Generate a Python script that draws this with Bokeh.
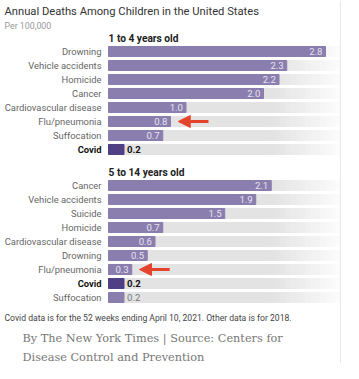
from bokeh.plotting import figure
from bokeh.models import Range1d, Arrow, NormalHead, Span, ColumnDataSource
from bokeh.core.properties import value
from bokeh.embed import file_html
from bokeh.resources import INLINE

# ---- data ----
title = "Annual Deaths Among Children in the United States"
subtitle = "Per 100,000"
group_titles = ["1 to 4 years old", "5 to 14 years old"]
causes_1_4 = ["Drowning", "Vehicle accidents", "Homicide", "Cancer",
              "Cardiovascular disease", "Flu/pneumonia", "Suffocation", "Covid"]
rates_1_4 = [2.8, 2.3, 2.2, 2.0, 1.0, 0.8, 0.7, 0.2]
causes_5_14 = ["Cancer", "Vehicle accidents", "Suicide", "Homicide",
               "Cardiovascular disease", "Drowning", "Flu/pneumonia", "Covid", "Suffocation"]
rates_5_14 = [2.1, 1.9, 1.5, 0.7, 0.6, 0.5, 0.3, 0.2, 0.2]
note = "Covid data is for the 52 weeks ending April 10, 2021. Other data is for 2018."
source_lines = ["By The New York Times | Source: Centers for", "Disease Control and Prevention"]
highlight = "Covid"
arrow_cause = "Flu/pneumonia"

# ---- layout / style ----
W, H = 343, 363
PX = 77.5          # pixels per unit
X0 = 108           # pixel position of zero inside the figure
TRACK_END = 2.994
SANS = "Roboto"
BAR = "#8a7eae"
BAR_HI = "#4f3f85"
TRACK = "#e3e3e3"
RED = "#e5442c"

p = figure(width=W, height=H, output_backend="svg", toolbar_location=None,
           x_range=Range1d(-X0 / PX, (W - X0) / PX), y_range=Range1d(H, 0),
           min_border=0)
p.axis.visible = False
p.grid.visible = False
p.outline_line_color = None
p.background_fill_color = "white"
p.border_fill_color = "white"

groups = [(group_titles[0], causes_1_4, rates_1_4), (group_titles[1], causes_5_14, rates_5_14)]
ys, names, vals, bar_cols = [], [], [], []
headers_y = []
y = 51
for gi, (gt, cs, rs) in enumerate(groups):
    headers_y.append(y - 13)
    for c, r in zip(cs, rs):
        ys.append(y); names.append(c); vals.append(r)
        bar_cols.append(BAR_HI if c == highlight else BAR)
        y += 14
    y += 22
last_y = ys[-1]

# gradient track
n_steps = 14
fade_start = 2.1
p.hbar(y=ys, left=0, right=fade_start, height=10, color=TRACK)
for k in range(n_steps):
    a = fade_start + (TRACK_END - fade_start) * k / n_steps
    b = fade_start + (TRACK_END - fade_start) * (k + 1) / n_steps
    g = int(227 + (252 - 227) * (k + 0.5) / n_steps)
    p.hbar(y=ys, left=a, right=b, height=10, color="#%02x%02x%02x" % (g, g, g))

src = ColumnDataSource(dict(y=ys, name=names, val=vals, col=bar_cols))
p.hbar(y="y", left=0, right="val", height=10, color="col", source=src)

# category labels
for nm, yy in zip(names, ys):
    hi = nm == highlight
    p.text(x=[0], y=[yy], text=[nm], x_offset=-7, text_align="right",
           text_baseline="middle", text_font=value(SANS), text_font_size="9.4px",
           text_color="#111" if hi else "#666",
           text_font_style="bold" if hi else "normal")

# value labels
for nm, v, yy in zip(names, vals, ys):
    hi = nm == highlight
    inside = v * PX >= 20 and not hi
    p.text(x=[v], y=[yy], text=["%.1f" % v], x_offset=-3 if inside else 3,
           text_align="right" if inside else "left", text_baseline="middle",
           text_font=value(SANS), text_font_size="9.6px",
           text_color="#e6e2ee" if inside else ("#111" if hi else "#777"),
           text_font_style="bold" if hi else "normal")

# group headers
for gt, hy in zip(group_titles, headers_y):
    p.text(x=[0], y=[hy], text=[gt], text_baseline="middle", text_align="left",
           text_font=value(SANS), text_font_size="10.2px", text_font_style="bold",
           text_color="#222")

# arrows
for nm, v, yy in zip(names, vals, ys):
    if nm == arrow_cause:
        p.add_layout(Arrow(end=NormalHead(size=12, fill_color=RED, line_color=RED),
                           x_start=v + 0.1 + 0.39, y_start=yy, x_end=v + 0.1, y_end=yy,
                           line_color=RED, line_width=3))

# right border line
p.add_layout(Span(location=TRACK_END, dimension="height", line_color="#e8e8e8", line_width=1))

# titles and notes
xl = -X0 / PX
p.text(x=[xl], y=[11], text=[title], text_baseline="middle", x_offset=4,
       text_font=value(SANS), text_font_size="11.2px", text_color="#333")
p.text(x=[xl], y=[25], text=[subtitle], text_baseline="middle", x_offset=4,
       text_font=value(SANS), text_font_size="8.8px", text_color="#999")
p.text(x=[xl], y=[last_y + 20], text=[note], text_baseline="middle", x_offset=4,
       text_font=value(SANS), text_font_size="8.6px", text_color="#444")
for i, s in enumerate(source_lines):
    p.text(x=[xl], y=[last_y + 41 + 19 * i], text=[s], x_offset=22, text_baseline="middle",
           text_font=value("DejaVu Serif"), text_font_size="11.3px", text_color="#777")

open("out.html", "w").write(file_html(p, INLINE))
